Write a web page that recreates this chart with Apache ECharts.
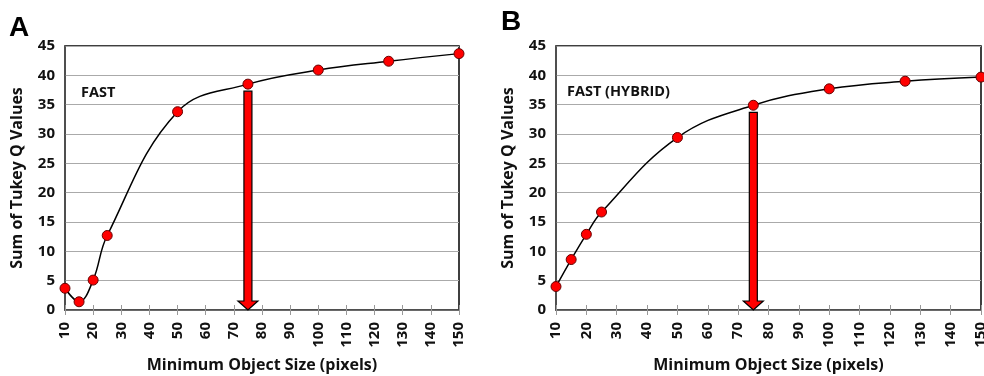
<!DOCTYPE html>
<html>
<head>
<meta charset="utf-8">
<script src="https://cdn.jsdelivr.net/npm/echarts@6/dist/echarts.min.js"></script>
<style>
  html, body { margin: 0; padding: 0; background: #fff; }
  #chart { width: 984px; height: 376px; }
</style>
</head>
<body>
<div id="chart"></div>
<script>
// data
const sizes = [10, 15, 20, 25, 50, 75, 100, 125, 150];
const fastQ = [3.7, 1.4, 5.1, 12.7, 33.8, 38.5, 40.9, 42.4, 43.7];
const hybridQ = [4.0, 8.6, 12.9, 16.7, 29.4, 34.9, 37.7, 39.0, 39.7];
// arrows: [x, top of shaft]
const arrowA = [[75, 37.3]];
const arrowB = [[75, 33.7]];
const panelLabels = ["A", "B"];
const seriesLabels = ["FAST", "FAST (HYBRID)"];

const font = "'Open Sans', 'Liberation Sans', sans-serif";
const chart = echarts.init(document.getElementById("chart"));

function xAxes(gi) {
  return [
    {
      type: "value", gridIndex: gi, min: 10, max: 150, interval: 10,
      name: "Minimum Object Size (pixels)", nameLocation: "middle", nameGap: 47,
      nameMoveOverlap: false,
      nameTextStyle: { fontFamily: font, fontWeight: "bold", fontSize: 16, color: "#111" },
      axisLine: { lineStyle: { color: "#555", width: 1.5 } },
      axisTick: { show: true, length: 5, lineStyle: { color: "#999" } },
      axisLabel: { rotate: 90, margin: 12, fontFamily: font, fontWeight: "bold", fontSize: 15, color: "#111" },
      splitLine: { show: false }
    },
    {
      // inner half of the ticks so they cross the axis
      type: "value", gridIndex: gi, min: 10, max: 150, interval: 10, position: "bottom",
      axisLine: { show: false },
      axisTick: { show: true, inside: true, length: 5, lineStyle: { color: "#999" } },
      axisLabel: { show: false }, splitLine: { show: false }
    }
  ];
}

function yAxis(gi) {
  return {
    type: "value", gridIndex: gi, min: 0, max: 45, interval: 5,
    name: "Sum of Tukey Q Values", nameLocation: "middle", nameGap: 40,
    nameMoveOverlap: false,
    nameTextStyle: { fontFamily: font, fontWeight: "bold", fontSize: 16, color: "#111" },
    axisLine: { show: true, lineStyle: { color: "#555", width: 1.5 } },
    axisTick: { show: false },
    axisLabel: { margin: 10, fontFamily: font, fontWeight: "bold", fontSize: 15, color: "#111" },
    splitLine: { lineStyle: { color: "#aaa", width: 1.2 } }
  };
}

function curve(xi, yi, vals) {
  return {
    type: "line", xAxisIndex: xi, yAxisIndex: yi,
    data: sizes.map((s, i) => [s, vals[i]]),
    smooth: 0.4,
    lineStyle: { color: "#000", width: 1.5 },
    symbol: "circle", symbolSize: 10,
    itemStyle: { color: "#f00", borderColor: "#600", borderWidth: 1 },
    z: 5
  };
}

function arrow(xi, yi, data) {
  return {
    type: "custom", xAxisIndex: xi, yAxisIndex: yi, data: data, z: 4,
    renderItem: function (params, api) {
      const top = api.coord([api.value(0), api.value(1)]);
      const tip = api.coord([api.value(0), 0]);
      const cx = top[0], sw = 4, hw = 10, hh = 9;
      return {
        type: "polygon",
        shape: { points: [
          [cx - sw, top[1]], [cx + sw, top[1]], [cx + sw, tip[1] - hh], [cx + hw, tip[1] - hh],
          [cx, tip[1]], [cx - hw, tip[1] - hh], [cx - sw, tip[1] - hh]
        ] },
        style: { fill: "#f00", stroke: "#000", lineWidth: 1.2 }
      };
    }
  };
}

const letterStyle = { fontFamily: "'Liberation Sans', Arial", fontWeight: "bold", fontSize: 28, color: "#000" };
const tagStyle = { fontFamily: font, fontWeight: "bold", fontSize: 14.5, color: "#111" };

chart.setOption({
  animation: false,
  title: [
    { text: panelLabels[0], left: 9, top: 14, padding: 0, textStyle: letterStyle },
    { text: panelLabels[1], left: 501, top: 8, padding: 0, textStyle: letterStyle },
    { text: seriesLabels[0], left: 81, top: 85, padding: 0, textStyle: tagStyle },
    { text: seriesLabels[1], left: 567, top: 84, padding: 0, textStyle: tagStyle }
  ],
  grid: [
    { left: 65, right: 525, top: 46, bottom: 66, outerBoundsMode: "none", containLabel: false,
      show: true, borderColor: "#000", borderWidth: 1.5 },
    { left: 556, right: 3, top: 46, bottom: 66, outerBoundsMode: "none", containLabel: false,
      show: true, borderColor: "#000", borderWidth: 1.5 }
  ],
  xAxis: xAxes(0).concat(xAxes(1)),
  yAxis: [yAxis(0), yAxis(1)],
  series: [
    arrow(0, 0, arrowA),
    curve(0, 0, fastQ),
    arrow(2, 1, arrowB),
    curve(2, 1, hybridQ)
  ]
});
</script>
</body>
</html>
